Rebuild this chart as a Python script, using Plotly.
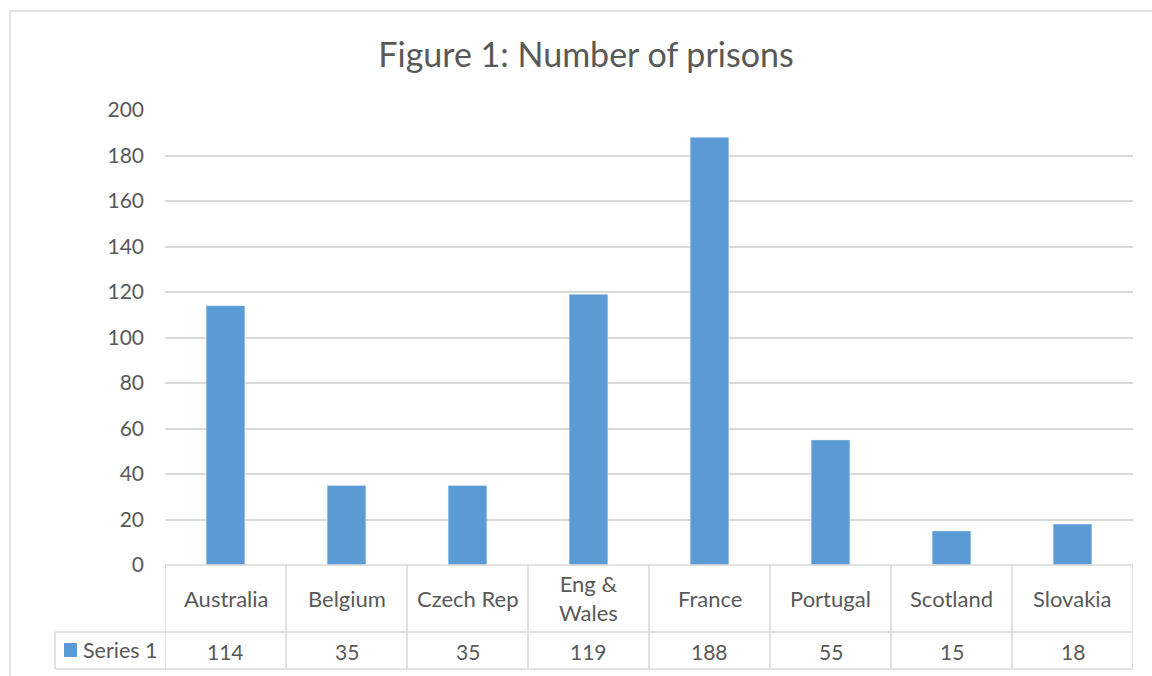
import plotly.graph_objects as go

categories = ["Australia", "Belgium", "Czech Rep", "Eng &<br>Wales", "France", "Portugal", "Scotland", "Slovakia"]
values = [114, 35, 35, 119, 188, 55, 15, 18]
series_name = "Series 1"
y_ticks = [0, 20, 40, 60, 80, 100, 120, 140, 160, 180, 200]
title_text = "Figure 1: Number of prisons"

W, H = 1152, 676
ML, MR, MT, MB = 165, 19, 110, 111
PW, PH = W - ML - MR, H - MT - MB
BAR = "#5B9BD5"
TXT = "#595959"
GRID = "#D9D9D9"
FONT = "Lato"

def px_x(px):
    return (px - ML) / PW

def px_y(py):
    return (H - MB - py) / PH

fig = go.Figure()
fig.add_trace(go.Bar(x=list(range(len(categories))), y=values, marker_color=BAR,
                     width=0.32, name=series_name, showlegend=False))

shapes = []
line = dict(color=GRID, width=1.5)
# table horizontal lines
shapes.append(dict(type="line", xref="x", yref="paper", x0=-0.5, x1=len(categories) - 0.5,
                   y0=0, y1=0, line=line))
shapes.append(dict(type="line", xref="paper", yref="paper", x0=px_x(55), x1=1,
                   y0=px_y(632), y1=px_y(632), line=line))
shapes.append(dict(type="line", xref="paper", yref="paper", x0=px_x(55), x1=1,
                   y0=px_y(669), y1=px_y(669), line=line))
# table vertical lines
for i in range(len(categories) + 1):
    shapes.append(dict(type="line", xref="x", yref="paper", x0=i - 0.5, x1=i - 0.5,
                       y0=0, y1=px_y(669), line=line))
shapes.append(dict(type="line", xref="paper", yref="paper", x0=px_x(55), x1=px_x(55),
                   y0=px_y(632), y1=px_y(669), line=line))
# legend key square
shapes.append(dict(type="rect", xref="paper", yref="paper", x0=px_x(64), x1=px_x(77),
                   y0=px_y(657), y1=px_y(643), fillcolor=BAR, line=dict(width=0)))
# outer chart border
shapes.append(dict(type="rect", xref="paper", yref="paper", x0=px_x(10), x1=px_x(1160),
                   y0=px_y(700), y1=px_y(11), line=dict(color=GRID, width=1.5)))

annotations = []
for i, (c, v) in enumerate(zip(categories, values)):
    annotations.append(dict(x=i, y=px_y(598), xref="x", yref="paper", text=c, showarrow=False,
                            font=dict(family=FONT, size=22, color=TXT), xanchor="center",
                            yanchor="middle", align="center"))
    annotations.append(dict(x=i, y=px_y(651), xref="x", yref="paper", text=str(v), showarrow=False,
                            font=dict(family=FONT, size=21, color=TXT), xanchor="center",
                            yanchor="middle"))
annotations.append(dict(x=px_x(81), y=px_y(650), xref="paper", yref="paper", text=series_name,
                        showarrow=False, font=dict(family=FONT, size=21.5, color=TXT),
                        xanchor="left", yanchor="middle"))

fig.update_layout(
    width=W, height=H,
    margin=dict(l=ML, r=MR, t=MT, b=MB),
    paper_bgcolor="white", plot_bgcolor="white",
    title=dict(text=title_text, x=(375 + 797) / 2 / W, xanchor="center", y=1 - 55 / H,
               yanchor="middle", font=dict(family=FONT, size=34, color=TXT)),
    xaxis=dict(range=[-0.5, len(categories) - 0.5], showticklabels=False, showgrid=False,
               zeroline=False, showline=False, fixedrange=True),
    yaxis=dict(range=[0, 200], tickvals=y_ticks, showgrid=True, gridcolor=GRID, gridwidth=1.5,
               zeroline=False, showline=False, ticks="", ticklabelstandoff=20,
               tickfont=dict(family=FONT, size=21, color=TXT)),
    shapes=shapes, annotations=annotations,
    bargap=0.68,
)

fig.write_html("out.html")
